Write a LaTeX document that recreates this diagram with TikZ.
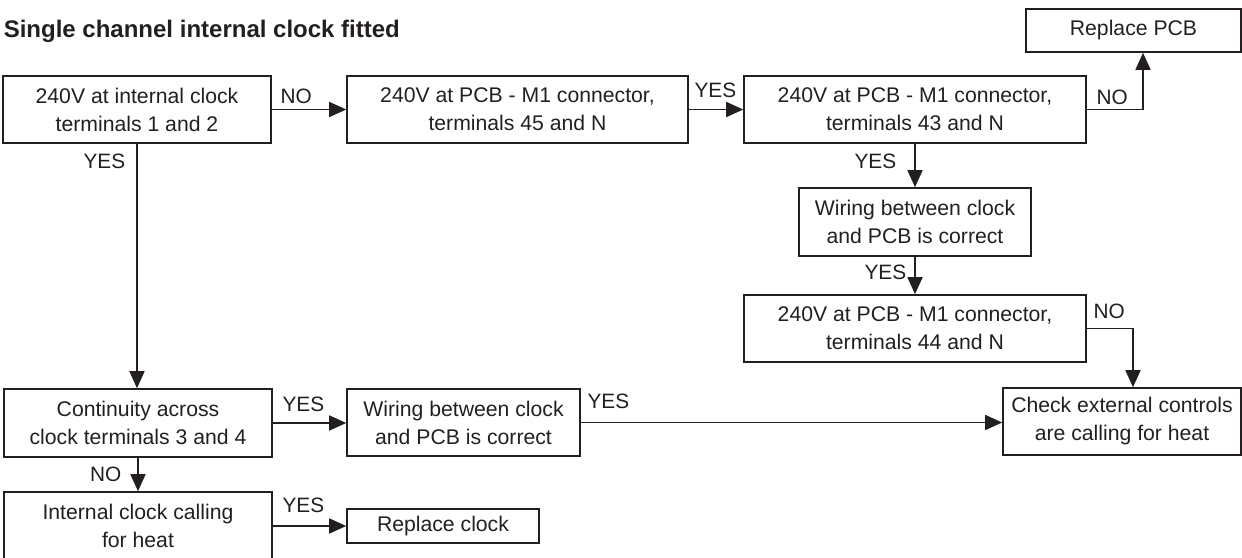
\documentclass[tikz,border=0pt]{standalone}
\usepackage{fontspec}
\setmainfont{Liberation Sans}
\usepackage{xcolor}
\usepackage{tikz}
\usetikzlibrary{arrows.meta, positioning}
\definecolor{ink}{RGB}{35,31,32}

\begin{document}
\begin{tikzpicture}[x=0.5pt, y=-0.5pt, color=ink, line width=0.8pt,
    box/.style={draw, rectangle, align=center, minimum height=33.5pt, inner sep=2pt, font=\fontsize{10.6}{14}\selectfont},
    lbl/.style={inner sep=0pt, font=\fontsize{10.4}{12}\selectfont},
    arr/.style={-{Triangle[length=8.5pt, width=7.5pt]}}]
    \useasboundingbox (0,0) rectangle (1242,557);
    \node (title) [anchor=base west, inner sep=0pt, font=\fontsize{12}{14}\selectfont\bfseries] at (3,37) {Single channel internal clock fitted};

    % Top row
    \node (clk12) [box, minimum width=134pt] at (137,109.5) {240V at internal clock\\terminals 1 and 2};
    \node (m45) [box, minimum width=170.5pt] at (517.5,109.5) {240V at PCB - M1 connector,\\terminals 45 and N};
    \node (m43) [box, minimum width=171pt] at (915,109.5) {240V at PCB - M1 connector,\\terminals 43 and N};
    \node (pcb) [box, minimum width=107.5pt, minimum height=21.5pt] at (1133.5,30.5) {Replace PCB};

    % Right column
    \node (wireA) [box, minimum width=116pt, minimum height=34pt] at (915,222) {Wiring between clock\\and PCB is correct};
    \node (m44) [box, minimum width=171pt] at (915,328.5) {240V at PCB - M1 connector,\\terminals 44 and N};
    \node (ext) [box, minimum width=119pt] at (1122,421.5) {Check external controls\\are calling for heat};

    % Bottom rows
    \node (cont) [box, minimum width=134pt, minimum height=34pt] at (138,423) {Continuity across\\clock terminals 3 and 4};
    \node (wireB) [box, minimum width=116.5pt] at (463.5,422.5) {Wiring between clock\\and PCB is correct};
    \node (call) [box, minimum width=134pt] at (138,525.5) {Internal clock calling\\for heat};
    \node (clock) [box, minimum width=96pt, minimum height=17pt] at (443,526) {Replace clock};

    % Connections
    \draw[arr] (clk12) -- node[lbl, pos=0, anchor=base west, xshift=4pt, yshift=3pt] (n1) {NO} (m45);
    \draw[arr] (m45) -- node[lbl, pos=0, anchor=base west, xshift=2.5pt, yshift=6pt] (y1) {YES} (m43);
    \draw[arr] (m43.east) -| node[lbl, pos=0, anchor=base west, xshift=4.5pt, yshift=2.75pt] (n2) {NO} ([xshift=4.75pt]pcb.south);
    \draw[arr] (m43) -- node[lbl, pos=0, anchor=base east, xshift=-9pt, yshift=-12.5pt] (y2) {YES} (wireA);
    \draw[arr] (wireA) -- node[lbl, pos=0, anchor=base east, xshift=-4pt, yshift=-11.5pt] (y3) {YES} (m44);
    \draw[arr] (m44.east) -| node[lbl, pos=0, anchor=base west, xshift=3pt, yshift=5.25pt] (n3) {NO} ([xshift=5.5pt]ext.north);
    \draw[arr] (clk12.south) -- node[lbl, pos=0, anchor=base east, xshift=-5.5pt, yshift=-12.5pt] (y4) {YES} (clk12.south |- cont.north);
    \draw[arr] (cont.east) -- node[lbl, pos=0, anchor=base west, xshift=4.5pt, yshift=6pt] (y5) {YES} (cont.east -| wireB.west);
    \draw[arr] (wireB.east) -- node[lbl, pos=0, anchor=base west, xshift=3pt, yshift=7pt] (y6) {YES} (wireB.east -| ext.west);
    \draw[arr] (cont.south) -- node[lbl, pos=0, anchor=base east, xshift=-8pt, yshift=-12pt] (n4) {NO} (call.north);
    \draw[arr] (call.east |- clock) -- node[lbl, pos=0, anchor=base west, xshift=4.5pt, yshift=7pt] (y7) {YES} (clock.west);
\end{tikzpicture}
\end{document}
